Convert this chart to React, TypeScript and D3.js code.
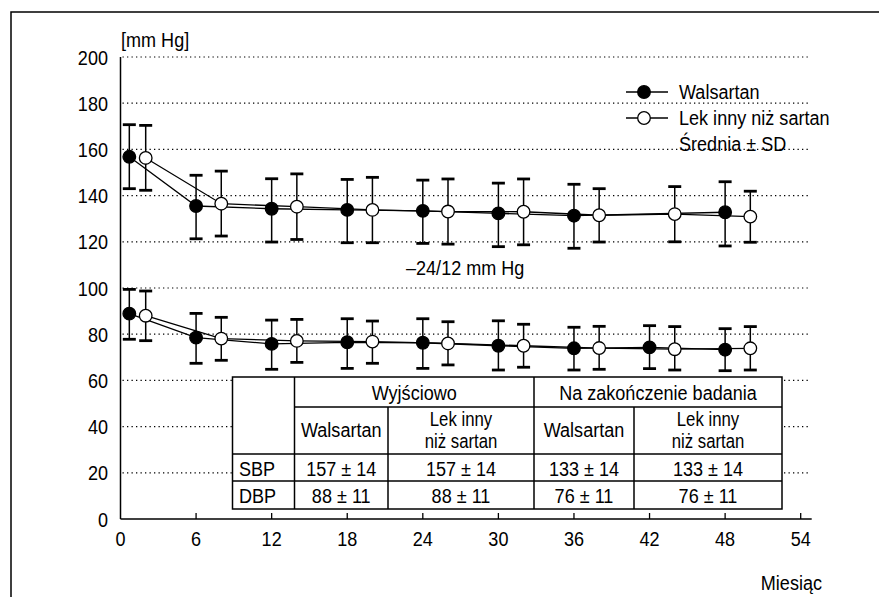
import React from 'react';
import * as d3 from 'd3';

// months at which each group was measured
const walMonthsSBP = [0.7, 6, 12, 18, 24, 30, 36, 48];
const walMonthsDBP = [0.7, 6, 12, 18, 24, 30, 36, 42, 48];
const othMonths = [2, 8, 14, 20, 26, 32, 38, 44, 50];

// Walsartan
const walSBP = [156.8, 135.5, 134.3, 133.8, 133.4, 132.3, 131.3, 132.8];
const walSBPHi = [170.7, 148.8, 147.3, 147.0, 146.7, 145.4, 144.9, 146.0];
const walSBPLo = [143.0, 121.3, 119.9, 119.6, 119.3, 117.9, 117.2, 118.2];
const walDBP = [88.9, 78.5, 75.8, 76.5, 76.3, 75.0, 73.9, 74.3, 73.3];
const walDBPHi = [99.4, 89.0, 86.1, 86.7, 86.7, 85.8, 83.0, 83.7, 82.4];
const walDBPLo = [77.8, 67.4, 64.8, 65.2, 65.2, 64.5, 64.5, 65.1, 64.2];

// Lek inny niż sartan
const othSBP = [156.3, 136.5, 135.2, 133.8, 133.1, 133.0, 131.5, 132.0, 130.9];
const othSBPHi = [170.4, 150.6, 149.4, 147.9, 147.2, 147.2, 143.0, 143.9, 141.9];
const othSBPLo = [142.3, 122.5, 121.0, 119.6, 119.0, 118.7, 119.9, 120.0, 119.8];
const othDBP = [88.0, 78.1, 77.1, 76.8, 76.0, 75.0, 74.0, 73.5, 73.9];
const othDBPHi = [98.7, 87.3, 86.4, 85.7, 85.4, 84.3, 83.4, 83.3, 83.3];
const othDBPLo = [77.2, 68.7, 67.8, 67.4, 66.7, 65.7, 64.8, 64.5, 64.5];

const xTicks = [0, 6, 12, 18, 24, 30, 36, 42, 48, 54];
const yTicks = [0, 20, 40, 60, 80, 100, 120, 140, 160, 180, 200];

const legendLabels = ['Walsartan', 'Lek inny niż sartan', 'Średnia ± SD'];

// summary table
const tableGroups = ['Wyjściowo', 'Na zakończenie badania'];
const tableCols = [['Walsartan'], ['Lek inny', 'niż sartan'], ['Walsartan'], ['Lek inny', 'niż sartan']];
const tableRows = ['SBP', 'DBP'];
const tableValues = [
    ['157 ± 14', '157 ± 14', '133 ± 14', '133 ± 14'],
    ['88 ± 11', '88 ± 11', '76 ± 11', '76 ± 11'],
];

const FONT = '"Liberation Sans", Arial, sans-serif';

// condensed text: squeeze horizontally around the anchor point
const T = ({ x, y, anchor = 'start', size = 21, children }: any) => (
    <text
        transform={`translate(${x},${y}) scale(0.86,1)`}
        textAnchor={anchor}
        fontSize={size}
        fontFamily={FONT}
        fill="#000"
    >
        {children}
    </text>
);

const zip = (xs: number[], m: number[], hi: number[], lo: number[]) =>
    xs.map((month, i) => ({ month, v: m[i], hi: hi[i], lo: lo[i] }));

const App = () => {
    const width = 879;
    const height = 597;

    const x = d3.scaleLinear().domain([0, 54]).range([120.5, 800.7]);
    const y = d3.scaleLinear().domain([0, 200]).range([519, 57]);

    const series = [
        { data: zip(walMonthsSBP, walSBP, walSBPHi, walSBPLo), filled: true },
        { data: zip(othMonths, othSBP, othSBPHi, othSBPLo), filled: false },
        { data: zip(walMonthsDBP, walDBP, walDBPHi, walDBPLo), filled: true },
        { data: zip(othMonths, othDBP, othDBPHi, othDBPLo), filled: false },
    ];

    const line = d3.line<any>()
        .x(d => x(d.month))
        .y(d => y(d.v));

    const r = 6.3;
    const cap = 6.5;

    // table layout
    const tL = 232.5, tR = 782;
    const colX = [294.5, 388, 534, 634];
    const rowY = [377, 407, 454, 481, 509];
    const edges = [...colX, tR];

    return (
        <svg width={width} height={height} style={{ position: 'absolute', left: 0, top: 0, background: '#fff' }}>
            {/* frame */}
            <path d={`M11,597 V12 H879`} fill="none" stroke="#000" strokeWidth={1.5} />

            {/* grid */}
            {yTicks.filter(t => t > 0).map(t => (
                <line key={t} x1={x(0) + 2} x2={808} y1={y(t)} y2={y(t)}
                    stroke="#000" strokeWidth={1.2} strokeDasharray="1.3,3.2" />
            ))}

            {/* axes */}
            <line x1={x(0)} x2={x(0)} y1={y(200)} y2={y(0)} stroke="#000" strokeWidth={1.5} />
            <line x1={x(0)} x2={811.7} y1={y(0)} y2={y(0)} stroke="#000" strokeWidth={1.5} />
            {xTicks.filter(t => t > 0).map(t => (
                <line key={t} x1={x(t)} x2={x(t)} y1={y(0)} y2={y(0) - 6} stroke="#000" strokeWidth={1.3} />
            ))}
            {xTicks.map(t => (
                <T key={t} x={x(t)} y={546} anchor="middle">{t}</T>
            ))}
            {yTicks.map(t => (
                <T key={t} x={108} y={y(t) + 7.5} anchor="end">{t}</T>
            ))}
            <T x={121} y={47}>[mm Hg]</T>
            <T x={822} y={590} anchor="end">Miesiąc</T>

            {/* connecting lines */}
            {series.map((s, i) => (
                <path key={i} d={line(s.data) || ''} fill="none" stroke="#000" strokeWidth={1.3} />
            ))}

            {/* error bars */}
            {series.map((s, i) => (
                <g key={i}>
                    {s.data.map((d, j) => (
                        <g key={j}>
                            <line x1={x(d.month)} x2={x(d.month)} y1={y(d.hi)} y2={y(d.lo)} stroke="#000" strokeWidth={1.5} />
                            <line x1={x(d.month) - cap} x2={x(d.month) + cap} y1={y(d.hi)} y2={y(d.hi)} stroke="#000" strokeWidth={2.8} />
                            <line x1={x(d.month) - cap} x2={x(d.month) + cap} y1={y(d.lo)} y2={y(d.lo)} stroke="#000" strokeWidth={2.8} />
                        </g>
                    ))}
                </g>
            ))}

            {/* points */}
            {series.map((s, i) => (
                <g key={i}>
                    {s.data.map((d, j) => (
                        <circle key={j} cx={x(d.month)} cy={y(d.v)} r={r}
                            fill={s.filled ? '#000' : '#fff'} stroke="#000" strokeWidth={1.3} />
                    ))}
                </g>
            ))}

            <T x={406} y={275}>–24/12 mm Hg</T>

            {/* legend */}
            <line x1={626} x2={668} y1={92} y2={92} stroke="#000" strokeWidth={1.3} />
            <circle cx={644} cy={92} r={r} fill="#000" stroke="#000" strokeWidth={1.3} />
            <T x={679} y={99}>{legendLabels[0]}</T>
            <line x1={626} x2={668} y1={118} y2={118} stroke="#000" strokeWidth={1.3} />
            <circle cx={644} cy={118} r={r} fill="#fff" stroke="#000" strokeWidth={1.3} />
            <T x={679} y={125}>{legendLabels[1]}</T>
            <T x={679} y={151}>{legendLabels[2]}</T>

            {/* table */}
            <rect x={tL} y={rowY[0]} width={tR - tL} height={rowY[4] - rowY[0]} fill="#fff" stroke="#000" strokeWidth={1.5} />
            <line x1={colX[0]} x2={tR} y1={rowY[1]} y2={rowY[1]} stroke="#000" strokeWidth={1.5} />
            <line x1={tL} x2={tR} y1={rowY[2]} y2={rowY[2]} stroke="#000" strokeWidth={1.5} />
            <line x1={tL} x2={tR} y1={rowY[3]} y2={rowY[3]} stroke="#000" strokeWidth={1.5} />
            <line x1={colX[0]} x2={colX[0]} y1={rowY[0]} y2={rowY[4]} stroke="#000" strokeWidth={1.5} />
            <line x1={colX[2]} x2={colX[2]} y1={rowY[0]} y2={rowY[4]} stroke="#000" strokeWidth={1.5} />
            <line x1={colX[1]} x2={colX[1]} y1={rowY[1]} y2={rowY[4]} stroke="#000" strokeWidth={1.5} />
            <line x1={colX[3]} x2={colX[3]} y1={rowY[1]} y2={rowY[4]} stroke="#000" strokeWidth={1.5} />

            {tableGroups.map((g, i) => (
                <T key={g} x={(edges[i * 2] + edges[i * 2 + 2]) / 2} y={400} anchor="middle">{g}</T>
            ))}
            {tableCols.map((c, i) => {
                const cx = (edges[i] + edges[i + 1]) / 2;
                return c.length === 1
                    ? <T key={i} x={cx} y={437} anchor="middle">{c[0]}</T>
                    : (
                        <g key={i}>
                            <T x={cx} y={425.5} size={19.5} anchor="middle">{c[0]}</T>
                            <T x={cx} y={448} size={19.5} anchor="middle">{c[1]}</T>
                        </g>
                    );
            })}
            {tableRows.map((row, ri) => (
                <g key={row}>
                    <T x={239} y={rowY[ri + 2] + 22}>{row}</T>
                    {tableValues[ri].map((v, ci) => (
                        <T key={ci} x={(edges[ci] + edges[ci + 1]) / 2} y={rowY[ri + 2] + 22} anchor="middle">{v}</T>
                    ))}
                </g>
            ))}
        </svg>
    );
};

export default App;
